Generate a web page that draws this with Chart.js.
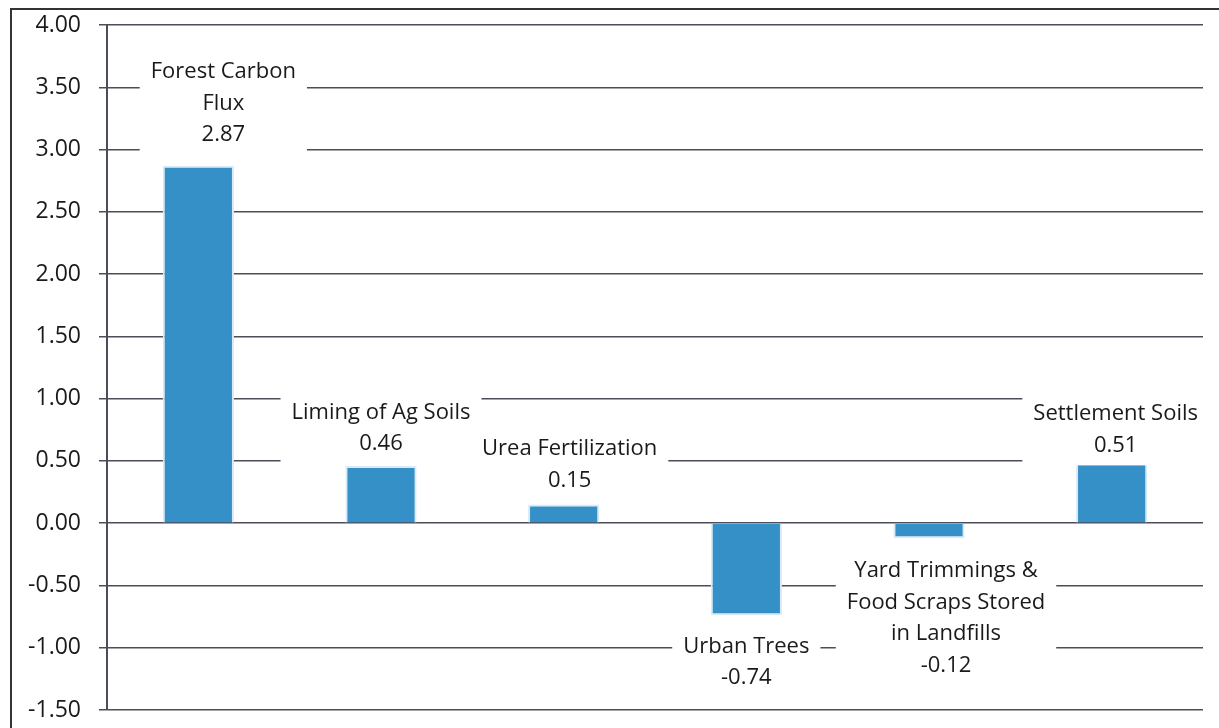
<!DOCTYPE html>
<html>
<head>
<meta charset="utf-8">
<script src="https://cdn.jsdelivr.net/npm/chart.js@4/dist/chart.umd.min.js"></script>
<style>
  html, body { margin: 0; padding: 0; background: #fff; }
  .wrap { position: relative; width: 1219px; height: 728px; overflow: hidden; }
  .frame { position: absolute; left: 10px; top: 8px; width: 1230px; height: 740px;
           border-left: 2px solid #333; border-top: 2px solid #333; }
  canvas { position: absolute; left: 0; top: 0; }
</style>
</head>
<body>
<div class="wrap">
  <div class="frame"></div>
  <canvas id="chart" width="1219" height="728"></canvas>
</div>
<script>
const categories = [
  ["Forest Carbon", "Flux"],
  ["Liming of Ag Soils"],
  ["Urea Fertilization"],
  ["Urban Trees"],
  ["Yard Trimmings &", "Food Scraps Stored", "in Landfills"],
  ["Settlement Soils"]
];
const values = [2.87, 0.46, 0.15, -0.74, -0.12, 0.51];
const yTicks = [4.0, 3.5, 3.0, 2.5, 2.0, 1.5, 1.0, 0.5, 0.0, -0.5, -1.0, -1.5];

const barColor = "#3590c7";
const gridColor = "#4d4d5a";
const fontFamily = "'Open Sans', Lato, sans-serif";

// label nudges [dx, dy] so the callouts sit where the original put them
const nudges = [[25, -9], [0, 0], [6, -2], [0, 1], [17, 3], [4, 8]];

const calloutPlugin = {
  id: "callouts",
  afterDatasetsDraw(chart) {
    const ctx = chart.ctx;
    const meta = chart.getDatasetMeta(0);
    const lh = 31.5;
    ctx.save();
    ctx.font = "22px " + fontFamily;
    ctx.textAlign = "center";
    ctx.textBaseline = "middle";
    meta.data.forEach((bar, i) => {
      const v = values[i];
      const lines = categories[i].concat([v.toFixed(2)]);
      const [dx, dy] = nudges[i];
      const cx = bar.x + dx;
      let first;
      if (v >= 0) {
        const last = bar.y - 22 + dy;
        first = last - (lines.length - 1) * lh;
      } else {
        first = bar.y + 30 + dy;
      }
      const w = Math.max(...lines.map(l => ctx.measureText(l).width)) + 22;
      const top = first - lh / 2 - 4;
      const h = lines.length * lh + 8;
      ctx.fillStyle = "#fff";
      ctx.fillRect(cx - w / 2, top, w, h);
      ctx.fillStyle = "#1a1a1a";
      lines.forEach((l, k) => ctx.fillText(l, cx, first + k * lh));
    });
    ctx.restore();
  }
};

new Chart(document.getElementById("chart"), {
  type: "bar",
  data: {
    labels: categories,
    datasets: [{
      data: values,
      backgroundColor: barColor,
      borderColor: "#d9ebf6",
      borderWidth: 2,
      categoryPercentage: 1,
      barPercentage: 0.39
    }]
  },
  options: {
    responsive: false,
    animation: false,
    devicePixelRatio: 1,
    layout: { padding: { top: 25, right: 16, bottom: 18, left: 0 } },
    plugins: { legend: { display: false }, tooltip: { enabled: false } },
    scales: {
      x: { display: false, offset: true },
      y: {
        min: -1.5,
        max: 4,
        afterFit(scale) {
          scale.width = 107;
          scale.paddingTop = 0;
          scale.paddingBottom = 0;
        },
        afterBuildTicks(scale) { scale.ticks = yTicks.map(v => ({ value: v })); },
        ticks: {
          padding: 18,
          color: "#1a1a1a",
          font: { family: fontFamily, size: 23 },
          callback: v => v.toFixed(2)
        },
        grid: { color: gridColor, lineWidth: 1.5, tickLength: 8 },
        border: { display: true, color: gridColor, width: 2 }
      }
    }
  },
  plugins: [calloutPlugin]
});
</script>
</body>
</html>
